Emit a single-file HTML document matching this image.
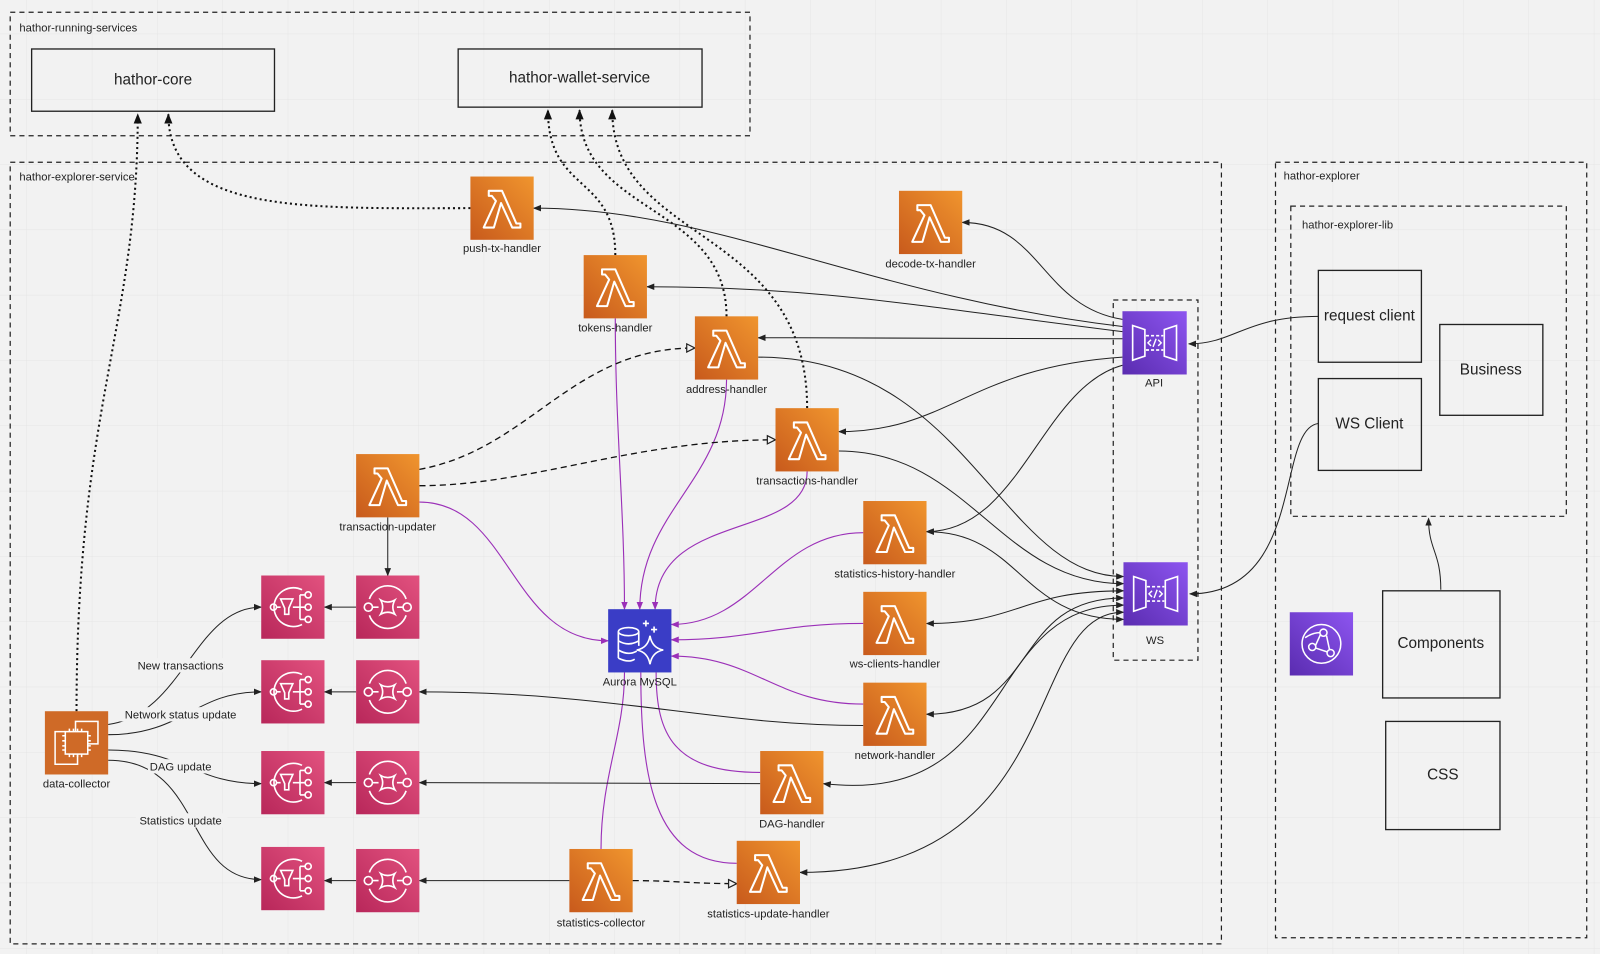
<!DOCTYPE html>
<html><head><meta charset="utf-8"><style>
html,body{margin:0;padding:0;background:#f2f2f2;}
svg{display:block;font-family:"Liberation Sans","DejaVu Sans",sans-serif;}
</style></head><body>
<svg width="1600" height="954" viewBox="0 0 1600 954" xmlns="http://www.w3.org/2000/svg">
<defs>
<pattern id="grid" x="26" y="33" width="64" height="64" patternUnits="userSpaceOnUse">
<path d="M0 0H64M0 0V64" stroke="#e5e5e5" stroke-width="1" fill="none"/>
</pattern>
<linearGradient id="gO" x1="0" y1="1" x2="1" y2="0"><stop offset="0" stop-color="#c85a1c"/><stop offset="1" stop-color="#f0952e"/></linearGradient>
<linearGradient id="gP" x1="0" y1="1" x2="1" y2="0"><stop offset="0" stop-color="#b8275a"/><stop offset="1" stop-color="#e2527f"/></linearGradient>
<linearGradient id="gV" x1="0" y1="1" x2="1" y2="0"><stop offset="0" stop-color="#5a2cb0"/><stop offset="1" stop-color="#8d55f0"/></linearGradient>
<marker id="a" viewBox="0 0 10 10" refX="9" refY="5" markerWidth="8" markerHeight="8" markerUnits="userSpaceOnUse" orient="auto-start-reverse"><path d="M0,1L10,5L0,9z" fill="#222"/></marker>
<marker id="ad" viewBox="0 0 10 10" refX="9" refY="5" markerWidth="10" markerHeight="10" markerUnits="userSpaceOnUse" orient="auto"><path d="M0,1L10,5L0,9z" fill="#111"/></marker>
<marker id="ap" viewBox="0 0 10 10" refX="9" refY="5" markerWidth="8" markerHeight="8" markerUnits="userSpaceOnUse" orient="auto"><path d="M0,1L10,5L0,9z" fill="#9b30b8"/></marker>
<marker id="ao" viewBox="0 0 10 10" refX="9" refY="5" markerWidth="10" markerHeight="10" markerUnits="userSpaceOnUse" orient="auto"><path d="M1,1L9,5L1,9z" fill="#f2f2f2" stroke="#222" stroke-width="1.2"/></marker>
<g id="lam"><rect width="62" height="62" fill="url(#gO)"/><path d="M18,14H31L45,46H49V50H41L30,26L23,50H13L25,24L21,19H18Z" fill="none" stroke="#fff" stroke-width="2" stroke-linejoin="round"/></g>
<g id="sns"><rect width="62" height="62" fill="url(#gP)"/><path d="M40,14A19,19 0 1 0 40,48" fill="none" stroke="#fff" stroke-width="1.6"/><circle cx="12" cy="31" r="3" fill="none" stroke="#fff" stroke-width="1.6"/><path d="M15,31H19M19,23H31L27,32V38H23V32Z" fill="none" stroke="#fff" stroke-width="1.6"/><path d="M31,31H38M38,19V43M38,19H43M38,31H43M38,43H43" fill="none" stroke="#fff" stroke-width="1.6"/><circle cx="46" cy="19" r="3" fill="none" stroke="#fff" stroke-width="1.6"/><circle cx="46" cy="31" r="3" fill="none" stroke="#fff" stroke-width="1.6"/><circle cx="46" cy="43" r="3" fill="none" stroke="#fff" stroke-width="1.6"/></g>
<g id="sqs"><rect width="62" height="62" fill="url(#gP)"/><path d="M13,23A19,19 0 0 1 49,23M13,39A19,19 0 0 0 49,39" fill="none" stroke="#fff" stroke-width="1.6"/><circle cx="12" cy="31" r="4" fill="none" stroke="#fff" stroke-width="1.6"/><circle cx="50" cy="31" r="4" fill="none" stroke="#fff" stroke-width="1.6"/><path d="M16,31H22M40,31H46M24,24Q31,28 38,24Q34,31 38,38Q31,34 24,38Q28,31 24,24Z" fill="none" stroke="#fff" stroke-width="1.6"/></g>
<g id="apig"><rect width="63" height="62" fill="url(#gV)"/><path d="M10,14L22,18V44L10,48ZM53,14L41,18V44L53,48Z" fill="none" stroke="#fff" stroke-width="1.6"/><path d="M23,24H40M23,38H40" stroke="#fff" stroke-width="1.6" stroke-dasharray="3 2"/><path d="M28,28L25,31L28,34M35,28L38,31L35,34M33,27L30,35" fill="none" stroke="#fff" stroke-width="1.4"/></g>
</defs>
<rect width="1600" height="954" fill="#f2f2f2"/>
<g transform="scale(1.0204)">
<rect width="1600" height="954" fill="url(#grid)"/>

<g fill="none" stroke="#222" stroke-width="1.2" stroke-dasharray="5 4">
<rect x="10" y="12" width="725" height="121"/>
<rect x="10" y="159" width="1187" height="766"/>
<rect x="1250" y="159" width="305" height="760"/>
<rect x="1265" y="202" width="270" height="304"/>
<rect x="1091" y="294" width="83" height="353"/>
</g>
<g font-size="11" fill="#222">
<text x="19" y="31">hathor-running-services</text>
<text x="19" y="177">hathor-explorer-service</text>
<text x="1258" y="176">hathor-explorer</text>
<text x="1276" y="224">hathor-explorer-lib</text>
</g>
<g fill="none" stroke="#222" stroke-width="1.3">
<rect x="31" y="48" width="238" height="61"/>
<rect x="449" y="48" width="239" height="57"/>
<rect x="1292" y="265" width="101" height="90"/>
<rect x="1292" y="371" width="101" height="90"/>
<rect x="1411" y="318" width="101" height="89"/>
<rect x="1355" y="579" width="115" height="105"/>
<rect x="1358" y="707" width="112" height="106"/>
</g>
<g font-size="15" fill="#222" text-anchor="middle">
<text x="150" y="83">hathor-core</text>
<text x="568" y="81">hathor-wallet-service</text>
<text x="1342" y="314">request client</text>
<text x="1342" y="420">WS Client</text>
<text x="1461" y="367">Business</text>
<text x="1412" y="635">Components</text>
<text x="1414" y="764">CSS</text>
</g>

<g fill="none" stroke="#111" stroke-width="2" stroke-dasharray="2 3" marker-end="url(#ad)">
<path d="M75,697C75,400 135,320 135,112"/>
<path d="M461,204C300,204 165,210 165,112"/>
<path d="M603,250C603,170 537,190 537,108"/>
<path d="M712,310C712,200 568,210 568,108"/>
<path d="M791,400C791,220 600,240 600,108"/>
</g>

<g fill="none" stroke="#9b30b8" stroke-width="1.1" marker-end="url(#ap)">
<path d="M603,312C603,420 612,500 612,597"/>
<path d="M712,372C712,470 627,500 627,597"/>
<path d="M791,462C791,530 642,500 642,597"/>
<path d="M411,492C500,492 500,628 596,628"/>
<path d="M846,522C760,522 740,612 658,612"/>
<path d="M846,611C760,611 740,627 658,627"/>
<path d="M846,690C760,690 740,643 658,643"/>
</g>
<g fill="none" stroke="#9b30b8" stroke-width="1.1">
<path d="M745,757C660,757 643,720 643,659"/>
<path d="M722,846C640,846 628,760 628,659"/>
<path d="M589,832C589,760 612,720 612,659"/>
</g>

<g fill="none" stroke="#111" stroke-width="1.3" stroke-dasharray="6 4" marker-end="url(#ao)">
<path d="M411,460C520,440 560,341 681,341"/>
<path d="M411,476C520,476 620,431 760,431"/>
<path d="M620,863C660,863 680,866 722,866"/>
</g>

<g fill="none" stroke="#222" stroke-width="1" marker-end="url(#a)">
<path d="M1100,320C850,290 700,204 523,204"/>
<path d="M1100,313C1020,300 1020,218 943,218"/>
<path d="M1100,325C900,300 800,281 634,281"/>
<path d="M1100,332C950,332 850,331 743,331"/>
<path d="M1100,350C950,360 930,423 822,423"/>
<path d="M1100,358C1020,380 1000,521 908,521"/>
<path d="M743,350C950,350 980,565 1101,565"/>
<path d="M822,442C950,442 980,572 1101,572"/>
<path d="M1292,310C1220,310 1210,337 1165,337"/>
<path d="M1292,415C1250,420 1280,582 1166,582"/>
<path d="M1412,578C1412,540 1400,540 1400,508"/>
<path d="M380,507V564"/>
<path d="M349,595H318"/>
<path d="M349,678H318"/>
<path d="M349,767H318"/>
<path d="M349,863H318"/>
<path d="M846,711C700,711 600,678 411,678"/>
<path d="M745,768C600,768 500,767 411,767"/>
<path d="M558,863C500,863 460,863 411,863"/>
<path d="M106,710C180,700 190,595 256,595"/>
<path d="M106,720C180,720 190,678 256,678"/>
<path d="M106,735C180,735 190,768 256,768"/>
<path d="M106,745C200,745 180,862 256,862"/>
</g>
<g fill="none" stroke="#222" stroke-width="1" marker-start="url(#a)" marker-end="url(#a)">
<path d="M908,611C1000,611 1000,579 1101,579"/>
<path d="M908,700C1020,700 990,586 1101,586"/>
<path d="M807,768C1000,790 960,593 1101,593"/>
<path d="M784,855C1050,855 1000,600 1101,600"/>
<path d="M908,521C1000,521 1000,607 1101,607"/>
</g>

<g font-size="11" fill="#222" text-anchor="middle">
<rect x="130" y="645" width="95" height="14" fill="#f2f2f2"/><text x="177" y="656">New transactions</text>
<rect x="117" y="693" width="122" height="14" fill="#f2f2f2"/><text x="177" y="704">Network status update</text>
<rect x="145" y="744" width="66" height="14" fill="#f2f2f2"/><text x="177" y="755">DAG update</text>
<rect x="133" y="797" width="90" height="14" fill="#f2f2f2"/><text x="177" y="808">Statistics update</text>
</g>

<use href="#lam" x="461" y="173"/>
<use href="#lam" x="572" y="250"/>
<use href="#lam" x="681" y="310"/>
<use href="#lam" x="881" y="187"/>
<use href="#lam" x="760" y="400"/>
<use href="#lam" x="349" y="445"/>
<use href="#lam" x="846" y="491"/>
<use href="#lam" x="846" y="580"/>
<use href="#lam" x="846" y="669"/>
<use href="#lam" x="745" y="736"/>
<use href="#lam" x="722" y="824"/>
<use href="#lam" x="558" y="832"/>
<use href="#sns" x="256" y="564"/>
<use href="#sns" x="256" y="647"/>
<use href="#sns" x="256" y="736"/>
<use href="#sns" x="256" y="830"/>
<use href="#sqs" x="349" y="564"/>
<use href="#sqs" x="349" y="647"/>
<use href="#sqs" x="349" y="736"/>
<use href="#sqs" x="349" y="832"/>
<use href="#apig" x="1100" y="305"/>
<use href="#apig" x="1101" y="551"/>
<g transform="translate(596,597)"><rect width="62" height="62" fill="#3a3dc6"/>
<g fill="none" stroke="#fff" stroke-width="1.6"><ellipse cx="20" cy="22" rx="10" ry="4"/><path d="M10,22V48M30,22V36M10,31Q20,37 30,31M10,40Q20,46 28,41M10,48Q20,53 26,49"/><path d="M41,26Q43,38 54,40Q43,42 41,54Q39,42 28,40Q39,38 41,26Z"/><path d="M37,11V17M34,14H40M45,17V23M42,20H48"/></g></g>
<g transform="translate(44,697)"><rect width="62" height="62" fill="#cf6a27"/>
<g fill="none" stroke="#fff" stroke-width="1.5"><rect x="30" y="10" width="22" height="22"/><path d="M20,20H10V52H32V42"/><rect x="20" y="20" width="22" height="22" fill="#cf6a27"/><path d="M24,17V20M28,17V20M32,17V20M36,17V20M24,42V45M28,42V45M32,42V45M36,42V45M17,24H20M17,29H20M17,34H20M17,38H20M42,24H45M42,29H45M42,34H45M42,38H45"/></g></g>
<g transform="translate(1264,600)"><rect width="62" height="62" fill="url(#gV)"/>
<g fill="none" stroke="#fff" stroke-width="1.5"><circle cx="31" cy="31" r="19"/><circle cx="33" cy="20" r="3.5"/><circle cx="22" cy="34" r="3.5"/><circle cx="40" cy="40" r="3.5"/><path d="M25,33L30,22M25,35L37,39M36,23L39,37M15,25Q22,20 30,20"/></g></g>

<g font-size="11" fill="#222" text-anchor="middle">
<text x="492" y="247">push-tx-handler</text>
<text x="603" y="325">tokens-handler</text>
<text x="712" y="385">address-handler</text>
<text x="912" y="262">decode-tx-handler</text>
<text x="791" y="475">transactions-handler</text>
<text x="380" y="520">transaction-updater</text>
<text x="877" y="566">statistics-history-handler</text>
<text x="877" y="654">ws-clients-handler</text>
<text x="877" y="744">network-handler</text>
<text x="776" y="811">DAG-handler</text>
<text x="753" y="899">statistics-update-handler</text>
<text x="589" y="908">statistics-collector</text>
<text x="627" y="672">Aurora MySQL</text>
<text x="75" y="772">data-collector</text>
<text x="1131" y="379">API</text>
<text x="1132" y="631">WS</text>
</g>
</g>
</svg>
</body></html>
